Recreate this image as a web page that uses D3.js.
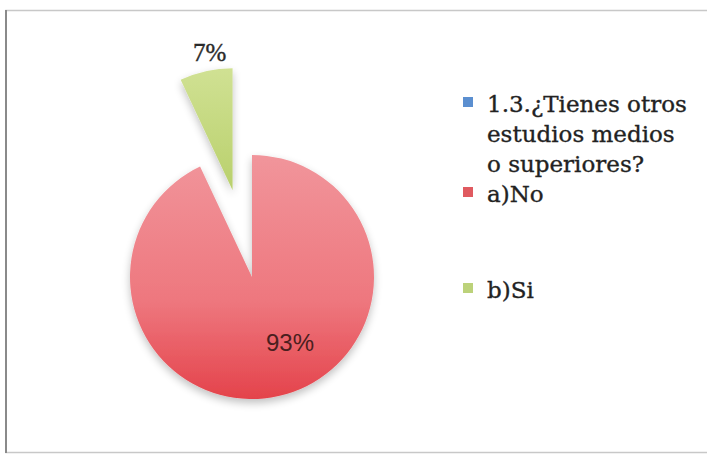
<!DOCTYPE html>
<html><head><meta charset="utf-8">
<script src="https://cdn.jsdelivr.net/npm/d3@7"></script>
<style>html,body{margin:0;padding:0;background:#fff;}svg{display:block;}</style>
</head><body>
<svg id="c" width="707" height="455"></svg>
<script>
const categories = ["a)No", "b)Si"];
const values = [93, 7];
const labels = ["93%", "7%"];
const seriesTitleLines = ["1.3.¿Tienes otros", "estudios medios", "o superiores?"];

const svg = d3.select("#c");
const defs = svg.append("defs");

// gradients
const gRed = defs.append("linearGradient").attr("id","gRed").attr("x1",0).attr("y1",0).attr("x2",0).attr("y2",1);
gRed.append("stop").attr("offset","0%").attr("stop-color","#f1959b");
gRed.append("stop").attr("offset","60%").attr("stop-color","#ee777e");
gRed.append("stop").attr("offset","100%").attr("stop-color","#e4434b");
const gGreen = defs.append("linearGradient").attr("id","gGreen").attr("x1",0).attr("y1",0).attr("x2",0).attr("y2",1);
gGreen.append("stop").attr("offset","0%").attr("stop-color","#d0e193");
gGreen.append("stop").attr("offset","100%").attr("stop-color","#b9d06c");
const f = defs.append("filter").attr("id","sh").attr("x","-20%").attr("y","-20%").attr("width","140%").attr("height","150%");
f.append("feGaussianBlur").attr("in","SourceAlpha").attr("stdDeviation",4).attr("result","b");
f.append("feOffset").attr("in","b").attr("dx",0).attr("dy",4).attr("result","o");
f.append("feComponentTransfer").attr("in","o").attr("result","o2").append("feFuncA").attr("type","linear").attr("slope",0.25);
const fm = f.append("feMerge"); fm.append("feMergeNode").attr("in","o2"); fm.append("feMergeNode").attr("in","SourceGraphic");

// frame
svg.append("rect").attr("x",6).attr("y",10.5).attr("width",712).attr("height",442)
  .attr("fill","#fff").attr("stroke","#c8c8c8").attr("stroke-width",1.5);
svg.append("line").attr("x1",6).attr("x2",6).attr("y1",10).attr("y2",453).attr("stroke","#8a8a8a").attr("stroke-width",2);

const cx = 252, cy = 277, r = 122, explode = 89;
const fills = ["url(#gRed)", "url(#gGreen)"];
const pie = d3.pie().sort(null).value(d => d.v);
const arcs = pie(categories.map((c,i)=>({c, v: values[i], i})));
const arc = d3.arc().innerRadius(0).outerRadius(r);
const g = svg.append("g").attr("transform",`translate(${cx},${cy})`);

arcs.forEach((a,i) => {
  const mid = (a.startAngle + a.endAngle)/2;
  const off = i === 1 ? explode : 0;
  const dx = Math.sin(mid)*off, dy = -Math.cos(mid)*off;
  g.append("path").attr("d", arc(a)).attr("fill", fills[i])
    .attr("transform",`translate(${dx},${dy})`).attr("filter","url(#sh)");
});

// data labels
g.append("text").attr("x", 38).attr("y", 68)
  .attr("text-anchor","middle").attr("dominant-baseline","middle")
  .attr("font-family","'Liberation Sans', Arial, sans-serif").attr("font-size",24)
  .attr("fill","#4a1e1e").text(labels[0]);
const a1 = arcs[1];
const m1 = (a1.startAngle + a1.endAngle)/2;
g.append("text")
  .attr("x", Math.sin(m1)*(r+explode+20) + 8).attr("y", -Math.cos(m1)*(r+explode+20) + 4)
  .attr("text-anchor","middle").attr("dominant-baseline","middle")
  .attr("font-family","'Liberation Serif', 'DejaVu Serif', serif").attr("font-size",25)
  .attr("fill","#2a2a2a").attr("stroke","#2a2a2a").attr("stroke-width",0.4).text(labels[1]);

// legend
const leg = svg.append("g");
const lf = "'DejaVu Serif', serif";
const fs = 23;
const tx = 487;
const markerColors = ["#5b8fd0", "#e05a60", "#bcd27a"];
function styleText(s){ return s.attr("font-family",lf).attr("font-size",fs).attr("fill","#222").attr("stroke","#222").attr("stroke-width",0.35); }
seriesTitleLines.forEach((t,i)=>{
  styleText(leg.append("text").attr("x",tx).attr("y",112 + i*30)).text(t);
});
leg.append("rect").attr("x",463).attr("y",97).attr("width",10).attr("height",10).attr("fill",markerColors[0]);
const catY = [202, 298];
categories.forEach((c,i)=>{
  leg.append("rect").attr("x",463).attr("y",catY[i]-15).attr("width",10).attr("height",10).attr("fill",markerColors[i+1]);
  styleText(leg.append("text").attr("x",tx).attr("y",catY[i])).text(c);
});
</script>
</body></html>
